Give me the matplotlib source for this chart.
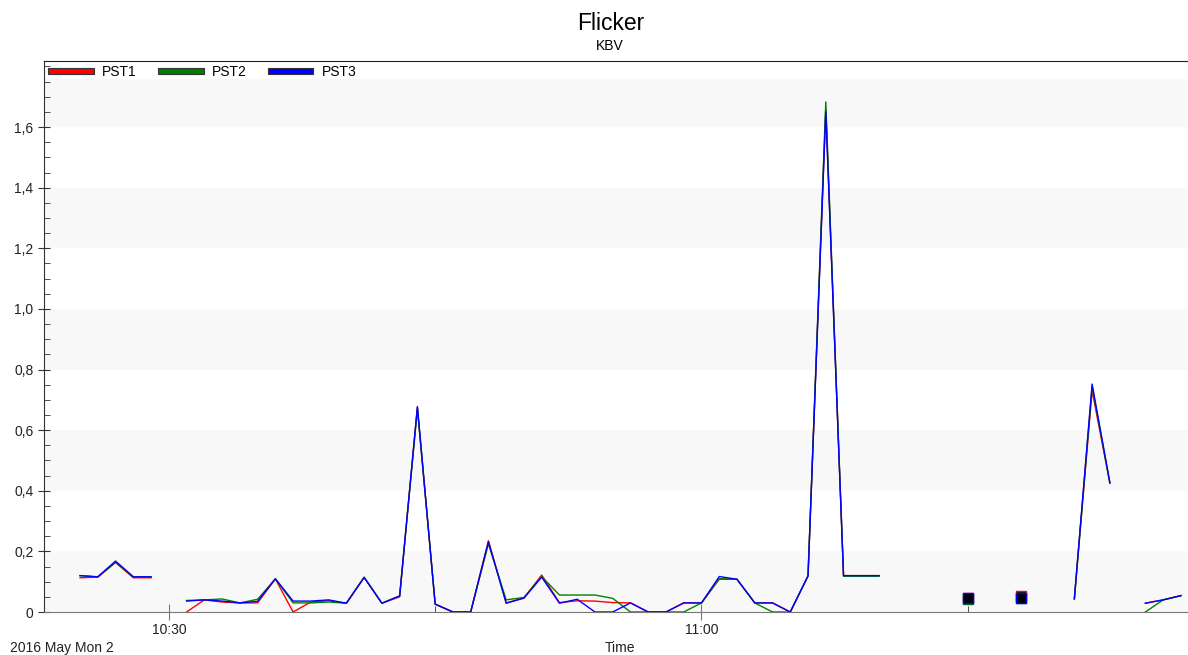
import numpy as np
import pandas as pd
import matplotlib
matplotlib.use("Agg")
import matplotlib.pyplot as plt
import matplotlib.dates as mdates
from matplotlib.patches import Patch
from matplotlib.ticker import FixedLocator, MultipleLocator, FuncFormatter

plt.rcParams['font.family'] = ['Liberation Sans', 'DejaVu Sans']

nan = np.nan

# one reading per minute, starting 10:25
times = pd.date_range("2016-05-02 10:25", periods=63, freq="min")

pst1 = [0.113, 0.115, 0.163, 0.113, 0.113, nan, 0.0, 0.04, 0.033, 0.03,
        0.03, 0.109, 0.0, 0.033, 0.037, 0.029, 0.114, 0.029, 0.05, 0.675,
        0.026, 0.0, 0.0, 0.235, 0.03, 0.046, 0.122, 0.031, 0.037, 0.036,
        0.031, 0.03, 0.0, 0.0, 0.03, 0.03, 0.108, 0.108, 0.03, 0.03,
        0.0, 0.119, 1.66, 0.12, 0.12, 0.12, nan, nan, nan, nan,
        0.047, nan, nan, 0.052, nan, nan, 0.042, 0.73, 0.425, nan,
        0.029, 0.04, 0.054]

pst2 = [0.12, 0.116, 0.165, 0.116, 0.116, nan, 0.038, 0.04, 0.043, 0.03,
        0.042, 0.109, 0.03, 0.03, 0.033, 0.029, 0.115, 0.029, 0.053, 0.67,
        0.026, 0.0, 0.0, 0.225, 0.04, 0.048, 0.117, 0.056, 0.056, 0.056,
        0.045, 0.0, 0.0, 0.0, 0.0, 0.03, 0.11, 0.108, 0.03, 0.0,
        0.0, 0.119, 1.683, 0.118, 0.118, 0.118, nan, nan, nan, nan,
        0.043, nan, nan, 0.046, nan, nan, 0.042, 0.745, 0.425, nan,
        0.0, 0.04, 0.054]

pst3 = [0.12, 0.116, 0.168, 0.116, 0.116, nan, 0.036, 0.04, 0.036, 0.03,
        0.035, 0.11, 0.036, 0.036, 0.04, 0.029, 0.114, 0.029, 0.053, 0.678,
        0.026, 0.0, 0.0, 0.232, 0.029, 0.046, 0.115, 0.029, 0.042, 0.0,
        0.0, 0.03, 0.0, 0.0, 0.03, 0.03, 0.117, 0.108, 0.03, 0.03,
        0.0, 0.119, 1.65, 0.12, 0.12, 0.12, nan, nan, nan, nan,
        0.047, nan, nan, 0.046, nan, nan, 0.045, 0.752, 0.427, nan,
        0.029, 0.04, 0.054]

names = ["PST1", "PST2", "PST3"]
colors = ["#ff0000", "#008000", "#0000ff"]

fig = plt.figure(figsize=(11.88, 6.55), dpi=100)
ax = fig.add_axes([44 / 1188, 43 / 655, 1144 / 1188, 551 / 655])

ymax = 1.818
ax.set_ylim(0, ymax)
ax.set_xlim(times[0] - pd.Timedelta(minutes=2.03), times[0] + pd.Timedelta(minutes=62.4))

# alternating grey bands every 0.2
for lo in np.arange(0, 1.8, 0.4):
    ax.axhspan(lo, lo + 0.2, color="#f8f8f8", zorder=0, lw=0)
ax.axhspan(1.76, ymax, color="white", zorder=0.5, lw=0)

for vals, c in zip([pst1, pst2, pst3], colors):
    y = np.array(vals, dtype=float)
    ax.plot(times, y, color=c, lw=1.0, zorder=2)
    # single readings with no neighbours get a square marker
    prev = np.r_[nan, y[:-1]]
    nxt = np.r_[y[1:], nan]
    iso = ~np.isnan(y) & np.isnan(prev) & np.isnan(nxt)
    ax.plot(times[iso], y[iso], "s", mfc="black", mec=c, ms=7, mew=1, zorder=3)

# axes styling
ax.spines["right"].set_visible(False)
ax.spines["top"].set_color("#222222")
ax.spines["left"].set_color("#333333")
ax.spines["bottom"].set_color("#777777")

ax.xaxis.set_major_locator(mdates.MinuteLocator(byminute=[0, 30]))
ax.xaxis.set_minor_locator(mdates.MinuteLocator(byminute=[15, 45]))
ax.xaxis.set_major_formatter(mdates.DateFormatter("%H:%M"))

ax.yaxis.set_major_locator(FixedLocator(np.arange(0, 1.61, 0.2)))
ax.yaxis.set_minor_locator(MultipleLocator(0.05))
ax.yaxis.set_major_formatter(FuncFormatter(lambda v, p: "0" if abs(v) < 1e-9 else f"{v:.1f}".replace(".", ",")))

ax.tick_params(axis="x", which="major", direction="inout", length=12, color="#777777",
               labelsize=10, labelcolor="#222222", pad=2)
ax.tick_params(axis="x", which="minor", direction="in", length=4, color="#333333")
ax.tick_params(axis="y", which="major", direction="inout", length=9, color="#333333",
               labelsize=10, labelcolor="#222222", pad=3)
ax.tick_params(axis="y", which="minor", direction="in", length=4, color="#333333")

handles = [Patch(facecolor=c, edgecolor="#333333", lw=0.8) for c in colors]
ax.legend(handles, names, loc="upper left", bbox_to_anchor=(0.0, 1.0), ncol=3,
          frameon=False, fontsize=10, handlelength=3.3, handleheight=0.3,
          handletextpad=0.6, columnspacing=1.5, borderaxespad=0.1, borderpad=0.2)

fig.text(611 / 1188, 1 - 24 / 655, "Flicker", ha="center", va="center", fontsize=16.5)
fig.text(610 / 1188, 1 - 46 / 655, "KBV", ha="center", va="center", fontsize=10)
fig.text(620 / 1188, 1 - 648 / 655, "Time", ha="center", va="center", fontsize=10, color="#222222")
fig.text(10 / 1188, 1 - 648 / 655, "2016 May Mon 2", ha="left", va="center", fontsize=10, color="#222222")

fig.savefig("out.png", dpi=100)
